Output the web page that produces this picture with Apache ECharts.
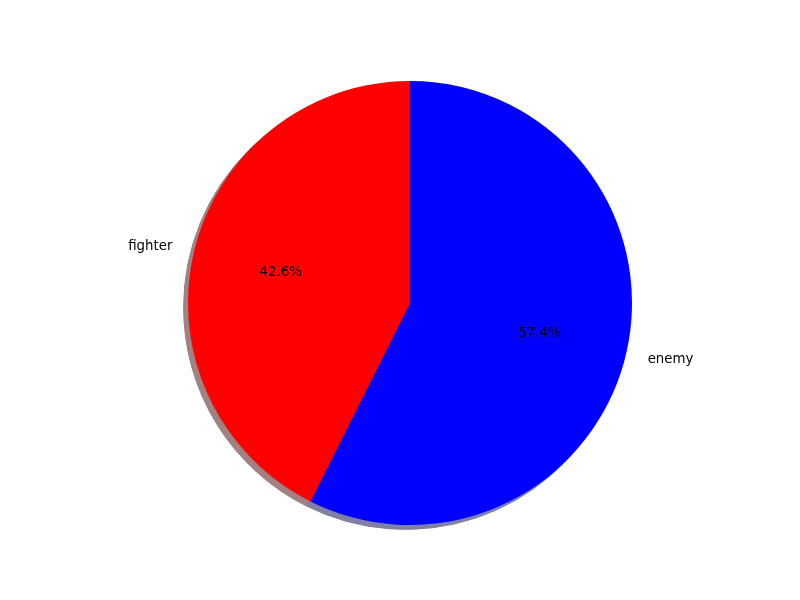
<!DOCTYPE html>
<html>
<head>
<meta charset="utf-8">
<script src="https://cdn.jsdelivr.net/npm/echarts@6/dist/echarts.min.js"></script>
<style>html,body{margin:0;padding:0;background:#fff;}#c{width:800px;height:600px;}</style>
</head>
<body>
<div id="c"></div>
<script>
const categories = ['fighter', 'enemy'];
const values = [42.6, 57.4];
const colors = ['#ff0000', '#0000ff'];
const shadowColors = ['#a68080', '#8080a6'];

const chart = echarts.init(document.getElementById('c'), null, {renderer: 'canvas'});
const R = 222, cx = 410, cy = 303;
const font = {fontFamily: 'DejaVu Sans', fontSize: 13.33, color: '#000'};

const mk = (cols) => categories.map((n, i) => ({name: n, value: values[i], itemStyle: {color: cols[i]}}));

chart.setOption({
  animation: false,
  backgroundColor: '#fff',
  series: [
    {
      type: 'pie', silent: true, center: [cx - 4.4, cy + 4.4], radius: R,
      startAngle: 90, clockwise: false, avoidLabelOverlap: false,
      data: categories.map((n, i) => ({name: n, value: values[i], itemStyle: {color: shadowColors[i], borderColor: shadowColors[i].replace('a6','96'), borderWidth: 1}})),
      label: {show: false}, labelLine: {show: false}, emphasis: {disabled: true}
    },
    {
      type: 'pie', silent: true, center: [cx, cy], radius: R,
      startAngle: 90, clockwise: false, avoidLabelOverlap: false,
      data: mk(colors),
      itemStyle: {borderWidth: 0},
      label: Object.assign({show: true, position: 'outside', distanceToLabelLine: 0, alignTo: 'none'}, font),
      labelLine: {show: false, length: R * 0.1, length2: 0},
      emphasis: {disabled: true}
    },
    {
      type: 'pie', silent: true, center: [cx, cy], radius: R * 1.17,
      startAngle: 90, clockwise: false, avoidLabelOverlap: false,
      data: categories.map((n, i) => ({name: n, value: values[i], itemStyle: {color: 'rgba(0,0,0,0)'}})),
      label: Object.assign({show: true, position: 'inside', formatter: p => p.value.toFixed(1) + '%'}, font),
      labelLine: {show: false},
      emphasis: {disabled: true}
    }
  ]
});
</script>
</body>
</html>
